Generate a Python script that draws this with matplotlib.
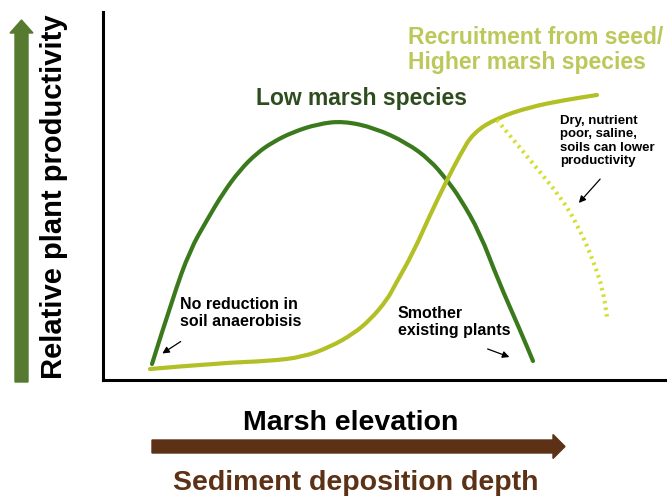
import matplotlib
matplotlib.use("Agg")
import matplotlib.pyplot as plt
from matplotlib.patches import FancyArrow, PathPatch
from matplotlib.path import Path

plt.rcParams['font.family'] = ['Liberation Sans', 'DejaVu Sans']

# curve values (x = elevation units, y = productivity units)
low_x = [49, 70, 87, 104, 120, 137, 154, 170, 190, 215, 240, 272, 304, 327, 344, 357, 377, 395, 417, 430]
low_y = [16, 83, 130, 160, 187, 210, 227, 238, 248, 256, 259, 252, 237, 220, 200, 182, 147, 100, 50, 19]

high_x = [47, 117, 167, 200, 227, 250, 267, 284, 292, 310, 327, 344, 357, 370, 394, 427, 462, 494]
high_y = [11, 17, 19, 23, 33, 46, 60, 80, 95, 127, 165, 200, 225, 247, 262, 273, 280, 285]

dry_x = [394, 427, 460, 477, 490, 500, 504]
dry_y = [260, 220, 180, 150, 120, 90, 63]

low_label = "Low marsh species"
high_label = "Recruitment from seed/\nHigher marsh species"
ylabel = "Relative plant productivity"
xlabel = "Marsh elevation"
xlabel2 = "Sediment deposition depth"

dark_green = '#3b7a1c'
light_green = '#b2c026'
dotted_green = '#d4df35'
brown = '#5c3115'


def smooth_path(xs, ys):
    # quadratic bezier through the midpoints, points used as control points
    pts = list(zip(xs, ys))
    verts = [pts[0]]
    codes = [Path.MOVETO]
    for i in range(1, len(pts) - 1):
        mid = ((pts[i][0] + pts[i + 1][0]) / 2, (pts[i][1] + pts[i + 1][1]) / 2)
        verts += [pts[i], mid]
        codes += [Path.CURVE3, Path.CURVE3]
    verts.append(pts[-1])
    codes.append(Path.LINETO)
    return Path(verts, codes)


fig = plt.figure(figsize=(6.7, 4.96), dpi=100)
W, H = 670, 496
ax = fig.add_axes([103 / W, 1 - 380 / H, 562 / W, 368 / H])
ax.set_xlim(0, 562)
ax.set_ylim(0, 368)
for s in ['top', 'right']:
    ax.spines[s].set_visible(False)
for s in ['left', 'bottom']:
    ax.spines[s].set_linewidth(2.2)
ax.set_xticks([])
ax.set_yticks([])

ax.add_patch(PathPatch(smooth_path(low_x, low_y), fill=False, edgecolor=dark_green, lw=3,
                       capstyle='round', joinstyle='round'))
ax.add_patch(PathPatch(smooth_path(high_x, high_y), fill=False, edgecolor=light_green, lw=3,
                       capstyle='round', joinstyle='round'))
ax.add_patch(PathPatch(smooth_path(dry_x, dry_y), fill=False, edgecolor=dotted_green, lw=3,
                       linestyle=(0, (0.6, 1.0)), capstyle='butt'))

ax.text(258, 281, low_label, color='#2e4d1f', fontsize=16.5, weight='bold', ha='center', va='center')
ax.text(305, 354, high_label, color='#bcc85a', fontsize=16.5, weight='bold', ha='left', va='top',
        linespacing=1.1, clip_on=False)

ax.text(77, 83, "No reduction in\nsoil anaerobisis", fontsize=11.5, weight='bold', ha='left', va='top',
        linespacing=1.15)
ax.annotate("", xy=(57, 25), xytext=(80, 40),
            arrowprops=dict(arrowstyle='-|>', color='black', lw=0.9, mutation_scale=10))

ax.text(295, 74, "Smother\nexisting plants", fontsize=11.5, weight='bold', ha='left', va='top',
        linespacing=1.15)
ax.annotate("", xy=(409, 22), xytext=(382, 32),
            arrowprops=dict(arrowstyle='-|>', color='black', lw=0.9, mutation_scale=10))

ax.text(457, 265, "Dry, nutrient\npoor, saline,\nsoils can lower\nproductivity", fontsize=9.5,
        weight='bold', ha='left', va='top', linespacing=1.15)
ax.annotate("", xy=(474, 175), xytext=(499, 203),
            arrowprops=dict(arrowstyle='-|>', color='black', lw=0.9, mutation_scale=10))

# arrows and labels outside the plot box
fig.patches.append(FancyArrow(0.215, (H - 382) / 100, 0, (382 - 20) / 100, width=0.13,
                              head_width=0.23, head_length=0.13, length_includes_head=True,
                              color='#557a30', transform=fig.dpi_scale_trans, figure=fig))
fig.patches.append(FancyArrow(1.52, (H - 446.5) / 100, (565 - 152) / 100, 0, width=0.13,
                              head_width=0.24, head_length=0.12, length_includes_head=True,
                              color=brown, transform=fig.dpi_scale_trans, figure=fig))

fig.text(54 / W, 1 - 197 / H, ylabel, rotation=90, fontsize=21, weight='bold',
         ha='center', va='center')
fig.text(351 / W, 1 - 430 / H, xlabel, fontsize=20.5, weight='bold', ha='center', va='baseline')
fig.text(356 / W, 1 - 490 / H, xlabel2, fontsize=20.5, weight='bold', color=brown,
         ha='center', va='baseline')

fig.savefig('out.png', dpi=100)
